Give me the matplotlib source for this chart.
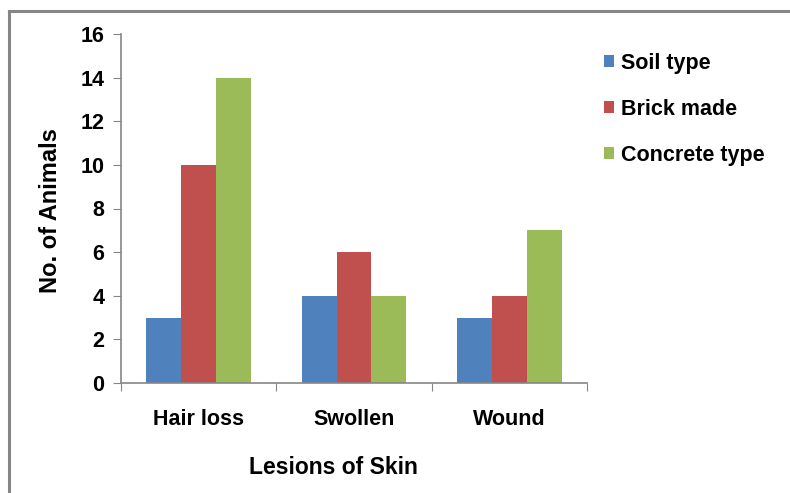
import matplotlib
matplotlib.use("Agg")
import matplotlib.pyplot as plt
from matplotlib.lines import Line2D
import numpy as np

plt.rcParams['font.family'] = ['Liberation Sans', 'DejaVu Sans']
plt.rcParams['font.weight'] = 'bold'

categories = ["Hair loss", "Swollen", "Wound"]
series_names = ["Soil type", "Brick made", "Concrete type"]
soil_type = [3, 4, 3]
brick_made = [10, 6, 4]
concrete_type = [14, 4, 7]
colors = ["#4F81BD", "#C0504D", "#9BBB59"]
y_ticks = [0, 2, 4, 6, 8, 10, 12, 14, 16]

FS = 15.5
W, H = 790, 493
fig = plt.figure(figsize=(W / 100, H / 100), dpi=100)
ax = fig.add_axes([121 / W, 1 - 383 / H, (587 - 121) / W, (383 - 34) / H])

# chart-area frame (left and top edges visible)
fig.add_artist(Line2D([9 / W, 9 / W], [0, 1 - 11 / H], color="#868686", lw=2.2,
                      transform=fig.transFigure))
fig.add_artist(Line2D([9 / W, 1], [1 - 11 / H, 1 - 11 / H], color="#868686", lw=2.2,
                      transform=fig.transFigure))

x = np.arange(len(categories))
bw = 0.224
for i, (vals, name) in enumerate(zip([soil_type, brick_made, concrete_type], series_names)):
    ax.bar(x + (i - 1) * bw, vals, width=bw, color=colors[i], label=name, zorder=2)

ax.set_xlim(-0.5, len(categories) - 0.5)
ax.set_ylim(0, 16)
ax.set_yticks(y_ticks)
ax.set_yticklabels([str(t) for t in y_ticks], fontsize=FS, fontweight='bold')

# category labels centred; ticks at group boundaries
ax.set_xticks(np.arange(-0.5, len(categories), 1.0))
ax.set_xticklabels([])
ax.set_xticks(x, minor=True)
ax.set_xticklabels(categories, minor=True, fontsize=FS, fontweight='bold')
ax.tick_params(axis='x', which='minor', length=0, pad=19)
ax.tick_params(axis='x', which='major', length=6, color="#868686", direction='out')
ax.tick_params(axis='y', length=6, color="#868686", direction='out', pad=6)

for s in ["top", "right"]:
    ax.spines[s].set_visible(False)
for s in ["left", "bottom"]:
    ax.spines[s].set_color("#868686")
    ax.spines[s].set_linewidth(1.2)

fig.text(333 / W, 1 - 468 / H, "Lesions of Skin", ha='center', va='center',
         fontsize=16.5, fontweight='bold')
fig.text(51 / W, 1 - 211 / H, "No. of Animals", ha='center', va='center',
         rotation=90, fontsize=17, fontweight='bold')

leg = ax.legend(loc='upper left', bbox_to_anchor=(595 / W, 1 - 44 / H),
                bbox_transform=fig.transFigure, frameon=False, fontsize=FS,
                handlelength=0.5, handleheight=0.5, handletextpad=0.3,
                labelspacing=1.16, borderaxespad=0)
for t in leg.get_texts():
    t.set_fontweight('bold')

fig.savefig("out.png", dpi=100)
